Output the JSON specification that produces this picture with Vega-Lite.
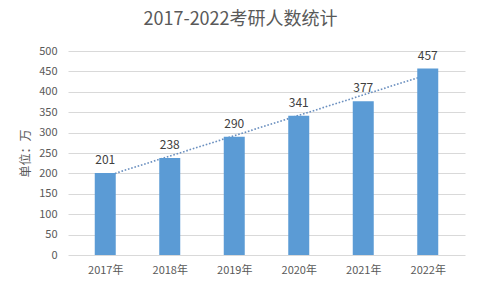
{
  "$schema": "https://vega.github.io/schema/vega-lite/v6.json",
  "autosize": "none",
  "width": 397,
  "height": 204,
  "padding": {"left": 68, "top": 51, "right": 15, "bottom": 33},
  "background": "white",
  "title": {
    "text": "2017-2022考研人数统计",
    "font": "Noto Sans CJK SC",
    "fontSize": 18,
    "fontWeight": "normal",
    "color": "#595959",
    "anchor": "middle",
    "dx": -26,
    "offset": 16
  },
  "config": {
    "view": {"stroke": null},
    "font": "Noto Sans CJK SC"
  },
  "data": {
    "values": [
      {"year": 2017, "value": 201},
      {"year": 2018, "value": 238},
      {"year": 2019, "value": 290},
      {"year": 2020, "value": 341},
      {"year": 2021, "value": 377},
      {"year": 2022, "value": 457}
    ]
  },
  "encoding": {
    "x": {
      "field": "year",
      "type": "quantitative",
      "scale": {"domain": [2016.5, 2022.5], "nice": false, "zero": false},
      "axis": {
        "title": null,
        "values": [2017, 2018, 2019, 2020, 2021, 2022],
        "labelExpr": "datum.value + '年'",
        "grid": false,
        "domain": false,
        "ticks": false,
        "labelPadding": 9,
        "labelFontSize": 11,
        "labelColor": "#595959",
        "labelFont": "Noto Sans CJK SC"
      }
    },
    "y": {
      "field": "value",
      "type": "quantitative",
      "scale": {"domain": [0, 500], "nice": false},
      "axis": {
        "title": "单位：万",
        "titleFontSize": 12,
        "titleFontWeight": "normal",
        "titleColor": "#595959",
        "titleFont": "Noto Sans CJK SC",
        "titlePadding": 6,
        "values": [0, 50, 100, 150, 200, 250, 300, 350, 400, 450, 500],
        "grid": true,
        "gridColor": "#d9d9d9",
        "gridWidth": 1,
        "domain": false,
        "ticks": false,
        "labelPadding": 11,
        "labelFontSize": 11,
        "labelColor": "#595959",
        "labelFont": "Noto Sans CJK SC"
      }
    }
  },
  "layer": [
    {
      "transform": [{"regression": "value", "on": "year", "method": "linear"}],
      "mark": {"type": "line", "color": "#6a8fbf", "strokeWidth": 1.6, "strokeDash": [1.6, 1.8]},
      "encoding": {}
    },
    {
      "mark": {"type": "bar", "color": "#5b9bd5", "size": 21}
    },
    {
      "mark": {"type": "text", "baseline": "bottom", "dy": -6, "fontSize": 12, "color": "#404040", "font": "Noto Sans CJK SC"},
      "encoding": {"text": {"field": "value", "type": "quantitative"}}
    }
  ]
}
